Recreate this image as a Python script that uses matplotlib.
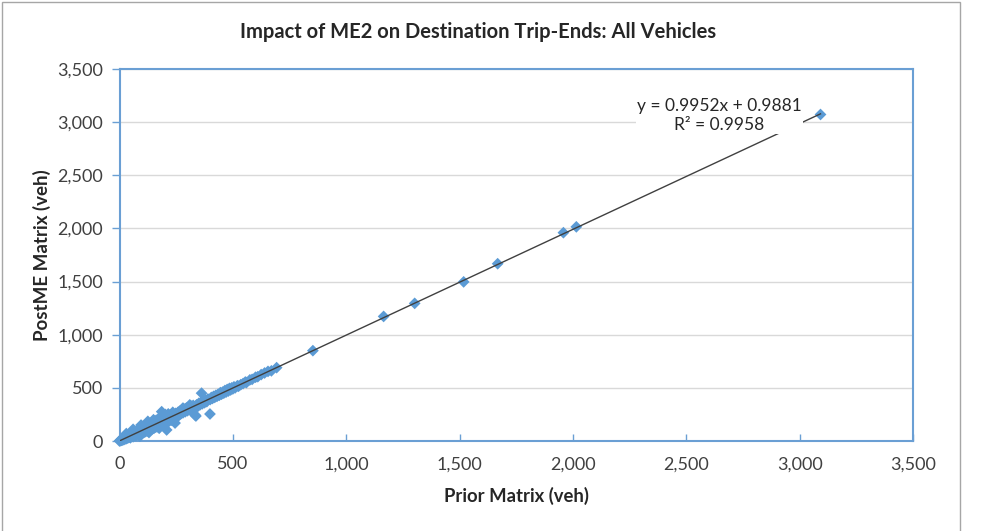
import matplotlib
matplotlib.use("Agg")
import matplotlib.pyplot as plt
from matplotlib.ticker import FuncFormatter, MultipleLocator
from matplotlib.patches import Rectangle
import numpy as np

plt.rcParams['font.family'] = ['Lato', 'DejaVu Sans']

title = "Impact of ME2 on Destination Trip-Ends: All Vehicles"
x_label = "Prior Matrix (veh)"
y_label = "PostME Matrix (veh)"
slope = 0.9952
intercept = 0.9881
r2 = 0.9958

prior = [
    0, 2, 5, 8, 10, 12, 15, 18, 20, 22, 25, 28, 30, 32, 35, 38, 40, 42, 45, 48, 50, 52, 55, 58, 60,
    62, 65, 68, 70, 72, 75, 78, 80, 82, 85, 88, 90, 92, 95, 98, 100, 102, 105, 108, 110, 112, 115,
    118, 120, 122, 125, 128, 130, 132, 135, 138, 140, 142, 145, 148, 150,
    152, 155, 158, 160, 162, 165, 168, 170, 172, 175, 178, 180, 183, 186, 188, 190, 192, 195, 198,
    200, 202, 205, 208, 210, 212, 215, 218, 220, 225, 228, 230, 235, 240, 245, 248, 250, 255, 258, 260,
    265, 270, 275, 280, 285, 290, 295, 300, 305, 310, 315, 320, 325, 330, 333, 337, 340, 345, 350,
    355, 362, 360, 365, 370, 375, 380, 385, 390, 399, 400, 405, 410, 415, 420, 425, 430, 435, 440,
    445, 450, 455, 460, 465, 470, 475, 480, 485, 490, 495, 500,
    505, 510, 520, 525, 535, 545, 555, 560, 575, 585, 600, 610, 625, 640, 655, 670, 693,
    30, 60, 95, 125, 150, 215, 235, 280, 310, 130, 175, 90,
    853, 1165, 1302, 1518, 1668, 1958, 2015, 3092,
]
post_me = [
    0, 5, 3, 12, 6, 15, 10, 22, 14, 28, 20, 35, 22, 40, 28, 45, 32, 50, 38, 30, 58, 44, 65, 48, 40,
    72, 55, 80, 60, 50, 90, 68, 95, 72, 60, 105, 80, 70, 115, 88, 75, 125, 95, 82, 135, 100, 88,
    140, 110, 95, 150, 118, 100, 160, 125, 108, 170, 130, 115, 180, 140,
    120, 185, 145, 130, 195, 150, 135, 205, 160, 140, 215, 170, 150, 276, 190, 160, 235, 180, 165,
    210, 250, 190, 104, 175, 225, 200, 185, 240, 210, 195, 250, 220, 205, 169, 260, 235, 225, 270, 245,
    280, 255, 295, 265, 300, 275, 310, 285, 320, 295, 330, 305, 335, 315, 245, 235, 340, 325, 355,
    340, 450, 365, 350, 375, 360, 385, 370, 395, 254, 390, 410, 400, 420, 410, 430, 420, 440, 430,
    455, 440, 460, 450, 475, 460, 485, 470, 495, 480, 500, 490,
    510, 500, 520, 515, 530, 540, 555, 550, 575, 580, 600, 605, 625, 640, 655, 660, 690,
    70, 110, 150, 185, 200, 255, 270, 310, 340, 80, 120, 45,
    850, 1172, 1295, 1497, 1668, 1960, 2015, 3072,
]

W, H = 993, 531
fig = plt.figure(figsize=(W / 100, H / 100), dpi=100)
fig.patch.set_facecolor('white')

# outer chart-area border (top, left, right visible)
fig.add_artist(Rectangle((2 / W, -0.05), (960 - 2) / W, 1.05 - 2 / H,
                         transform=fig.transFigure, fill=False,
                         edgecolor='#A6A6A6', linewidth=1.0))

ax = fig.add_axes([119.5 / W, 1 - 441 / H, (913 - 119.5) / W, (441 - 69) / H])
ax.set_xlim(0, 3500)
ax.set_ylim(0, 3500)
ax.xaxis.set_major_locator(MultipleLocator(500))
ax.yaxis.set_major_locator(MultipleLocator(500))
fmt = FuncFormatter(lambda v, p: f"{int(v):,}")
ax.xaxis.set_major_formatter(fmt)
ax.yaxis.set_major_formatter(fmt)

ax.grid(axis='y', color='#D9D9D9', linewidth=1.0)
ax.set_axisbelow(True)

for s in ax.spines.values():
    s.set_color('#6A9FD4')
    s.set_linewidth(1.5)

ax.tick_params(axis='x', direction='in', length=5, color='#6A9FD4', width=1,
               labelsize=13, labelcolor='#404040', pad=11)
ax.tick_params(axis='y', direction='out', length=6, color='#6A9FD4', width=1,
               labelsize=13, labelcolor='#404040', pad=6)

ax.scatter(prior, post_me, marker='D', s=36, color='#5B9BD5', edgecolors='none',
           zorder=3, clip_on=False)

xl = np.array([0, max(prior)])
ax.plot(xl, slope * xl + intercept, color='#404040', linewidth=1.0, zorder=4)

ax.text(2647, 3065, f"y = {slope}x + {intercept}\nR² = {r2}", ha='center', va='center',
        fontsize=12.5, color='#262626', linespacing=1.2, zorder=5,
        bbox=dict(facecolor='white', edgecolor='none', pad=1))

fig.text(478 / W, 1 - 32 / H, title, ha='center', va='center', fontsize=14.5,
         fontweight='bold', color='#262626')
fig.text(516 / W, 1 - 496 / H, x_label, ha='center', va='center', fontsize=13.3,
         fontweight='bold', color='#262626')
fig.text(42 / W, 1 - 255 / H, y_label, ha='center', va='center', fontsize=13.5,
         fontweight='bold', color='#262626', rotation=90)

fig.savefig('out.png', dpi=100)
